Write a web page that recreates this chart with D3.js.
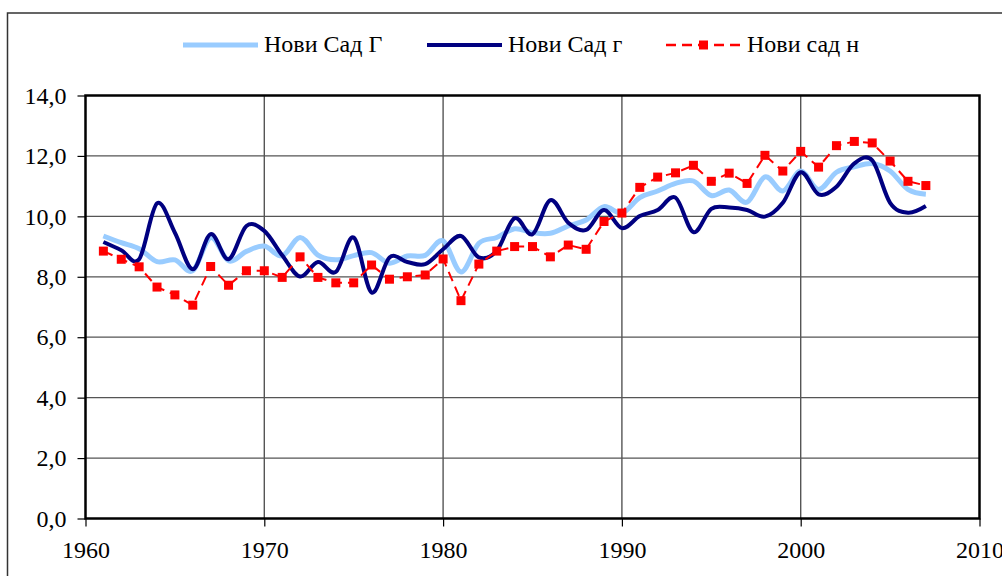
<!DOCTYPE html>
<html>
<head>
<meta charset="utf-8">
<script src="https://cdn.jsdelivr.net/npm/d3@7"></script>
<style>
  html, body { margin: 0; padding: 0; background: #fff; }
  svg { display: block; }
</style>
</head>
<body>
<div id="chart"></div>
<script>
// years 1961..2007
const years = [1961,1962,1963,1964,1965,1966,1967,1968,1969,1970,
  1971,1972,1973,1974,1975,1976,1977,1978,1979,1980,
  1981,1982,1983,1984,1985,1986,1987,1988,1989,1990,
  1991,1992,1993,1994,1995,1996,1997,1998,1999,2000,
  2001,2002,2003,2004,2005,2006,2007];

// Нови Сад Г (light blue)
const valuesG = [9.35,9.13,8.93,8.50,8.56,8.20,9.30,8.53,8.84,9.02,
  8.69,9.30,8.72,8.56,8.70,8.80,8.45,8.69,8.71,9.19,
  8.16,9.11,9.30,9.59,9.46,9.44,9.68,9.88,10.32,10.11,
  10.62,10.84,11.09,11.17,10.69,10.87,10.47,11.31,10.84,11.50,
  10.89,11.46,11.64,11.75,11.50,10.89,10.73];

// Нови Сад г (navy)
const valuesg = [9.15,8.88,8.58,10.43,9.46,8.25,9.41,8.58,9.68,9.52,
  8.71,8.01,8.49,8.16,9.30,7.48,8.64,8.49,8.42,8.91,
  9.35,8.64,8.86,9.94,9.41,10.54,9.79,9.55,10.21,9.61,
  10.01,10.21,10.62,9.48,10.25,10.29,10.21,9.99,10.45,11.46,
  10.73,10.98,11.75,11.85,10.45,10.12,10.34];

// Нови сад н (red, dashed with markers)
const valuesN = [8.85,8.58,8.33,7.66,7.40,7.06,8.34,7.72,8.20,8.20,
  7.98,8.66,7.98,7.80,7.80,8.39,7.92,8.00,8.06,8.59,
  7.21,8.42,8.85,9.00,9.00,8.66,9.05,8.91,9.83,10.11,
  10.96,11.30,11.44,11.69,11.16,11.43,11.09,12.02,11.50,12.15,
  11.63,12.34,12.48,12.43,11.83,11.16,11.02];

const yTicks = [0,2,4,6,8,10,12,14];
const xTicks = [1960,1970,1980,1990,2000,2010];
const seriesNames = ['Нови Сад Г', 'Нови Сад г', 'Нови сад н'];

const width = 1002, height = 576;
const font = '"Liberation Serif", "Times New Roman", "DejaVu Serif", serif';

const svg = d3.select('#chart').append('svg')
  .attr('width', width)
  .attr('height', height)
  .attr('font-family', font);

// outer chart frame
svg.append('rect')
  .attr('x', 7.5).attr('y', 13)
  .attr('width', 1010).attr('height', 600)
  .attr('fill', 'none')
  .attr('stroke', '#333')
  .attr('stroke-width', 1.5);

const x = d3.scaleLinear().domain([1960, 2010]).range([85.5, 979.5]);
const y = d3.scaleLinear().domain([0, 14]).range([518.5, 95.5]);

// gridlines
svg.append('g')
  .selectAll('line')
  .data(yTicks.filter(d => d > 0 && d < 14))
  .join('line')
  .attr('x1', x(1960)).attr('x2', x(2010))
  .attr('y1', d => y(d)).attr('y2', d => y(d))
  .attr('stroke', '#555').attr('stroke-width', 1.2);

svg.append('g')
  .selectAll('line')
  .data(xTicks.filter(d => d > 1960 && d < 2010))
  .join('line')
  .attr('x1', d => x(d)).attr('x2', d => x(d))
  .attr('y1', y(14)).attr('y2', y(0))
  .attr('stroke', '#555').attr('stroke-width', 1.4);

// axes
const yAxis = svg.append('g')
  .attr('transform', `translate(${x(1960)},0)`)
  .call(d3.axisLeft(y).tickValues(yTicks).tickSize(8).tickPadding(11)
    .tickFormat(d => d3.format('.1f')(d).replace('.', ',')));

const xAxis = svg.append('g')
  .attr('transform', `translate(0,${y(0)})`)
  .call(d3.axisBottom(x).tickValues(xTicks).tickSize(8).tickPadding(14)
    .tickFormat(d3.format('d')));

[yAxis, xAxis].forEach(a => {
  a.attr('font-family', font).attr('font-size', 24);
  a.select('.domain').remove();
  a.selectAll('line').attr('stroke', '#000').attr('stroke-width', 1.2);
  a.selectAll('text').attr('fill', '#000');
});

// plot area border
svg.append('rect')
  .attr('x', x(1960)).attr('y', y(14))
  .attr('width', x(2010) - x(1960))
  .attr('height', y(0) - y(14))
  .attr('fill', 'none')
  .attr('stroke', '#000')
  .attr('stroke-width', 2.5);

const smooth = d3.line()
  .x((d, i) => x(years[i]))
  .y(d => y(d))
  .curve(d3.curveCardinal.tension(0));

const straight = d3.line()
  .x((d, i) => x(years[i]))
  .y(d => y(d));

svg.append('path')
  .attr('d', smooth(valuesG))
  .attr('fill', 'none')
  .attr('stroke', '#99CCFF')
  .attr('stroke-width', 5);

svg.append('path')
  .attr('d', smooth(valuesg))
  .attr('fill', 'none')
  .attr('stroke', '#000080')
  .attr('stroke-width', 4);

svg.append('path')
  .attr('d', straight(valuesN))
  .attr('fill', 'none')
  .attr('stroke', '#FF0000')
  .attr('stroke-width', 2)
  .attr('stroke-dasharray', '10,6');

svg.append('g')
  .selectAll('rect')
  .data(valuesN)
  .join('rect')
  .attr('x', (d, i) => x(years[i]) - 4.5)
  .attr('y', d => y(d) - 4.5)
  .attr('width', 9).attr('height', 9)
  .attr('fill', '#FF0000');

// legend
const legendItems = [
  { name: seriesNames[0], x0: 183, color: '#99CCFF', w: 5, dash: null, marker: false },
  { name: seriesNames[1], x0: 427, color: '#000080', w: 4, dash: null, marker: false },
  { name: seriesNames[2], x0: 666, color: '#FF0000', w: 2.5, dash: '10,6', marker: true }
];
const legendY = 45;

const leg = svg.append('g')
  .attr('font-size', 24)
  .selectAll('g')
  .data(legendItems)
  .join('g');

leg.append('line')
  .attr('x1', d => d.x0).attr('x2', d => d.x0 + 75)
  .attr('y1', legendY).attr('y2', legendY)
  .attr('stroke', d => d.color)
  .attr('stroke-width', d => d.w)
  .attr('stroke-dasharray', d => d.dash);

leg.filter(d => d.marker).append('rect')
  .attr('x', d => d.x0 + 33).attr('y', legendY - 4.5)
  .attr('width', 9).attr('height', 9)
  .attr('fill', '#FF0000');

leg.append('text')
  .attr('x', d => d.x0 + 81)
  .attr('y', legendY + 7)
  .text(d => d.name);
</script>
</body>
</html>
